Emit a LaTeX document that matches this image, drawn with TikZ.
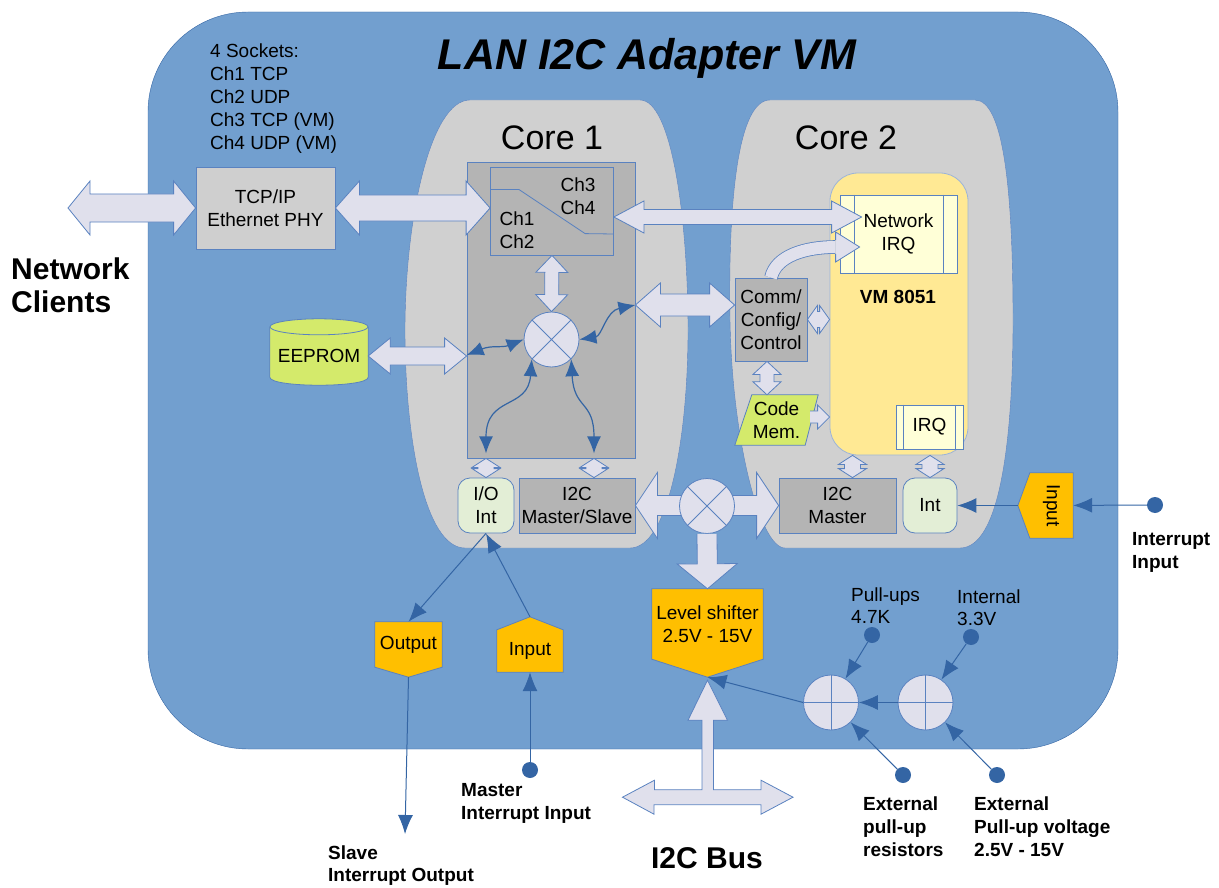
\documentclass[tikz,border=0pt]{standalone}
\usepackage{fontspec}
\setmainfont{Liberation Sans}
\usetikzlibrary{calc,arrows.meta}
\definecolor{cBlue}{HTML}{729FCF}
\definecolor{cdBlue}{HTML}{3465A4}
\definecolor{cEdge}{HTML}{5A82C0}
\definecolor{clLav}{HTML}{E0E0EC}
\definecolor{cCore}{HTML}{D0D0D0}
\definecolor{cGray}{HTML}{B4B4B4}
\definecolor{clGray}{HTML}{CFCFCF}
\definecolor{cGreen}{HTML}{D4EA6B}
\definecolor{clGreen}{HTML}{E3EED6}
\definecolor{cYellow}{HTML}{FFE994}
\definecolor{clYellow}{HTML}{FFFFD7}
\definecolor{cOrange}{HTML}{FFBF00}
\tikzset{>={Latex[length=19pt,width=15pt]}}
% block arrows: from, to, shaft half, head half, head length
\newcommand{\dblarrow}[5]{%
	\draw[blk] (#1) -- ($(#1)!#5pt!(#2)!#4pt!90:(#2)$) -- ($(#1)!#5pt!(#2)!#3pt!90:(#2)$)
		-- ($(#2)!#5pt!(#1)!#3pt!-90:(#1)$) -- ($(#2)!#5pt!(#1)!#4pt!-90:(#1)$) -- (#2)
		-- ($(#2)!#5pt!(#1)!#4pt!90:(#1)$) -- ($(#2)!#5pt!(#1)!#3pt!90:(#1)$)
		-- ($(#1)!#5pt!(#2)!#3pt!-90:(#2)$) -- ($(#1)!#5pt!(#2)!#4pt!-90:(#2)$) -- cycle;}
\newcommand{\sglarrow}[5]{%
	\draw[blk] ($(#1)!#3pt!90:(#2)$) -- ($(#2)!#5pt!(#1)!#3pt!-90:(#1)$) -- ($(#2)!#5pt!(#1)!#4pt!-90:(#1)$) -- (#2)
		-- ($(#2)!#5pt!(#1)!#4pt!90:(#1)$) -- ($(#2)!#5pt!(#1)!#3pt!90:(#1)$) -- ($(#1)!#3pt!-90:(#2)$);}

\begin{document}
\begin{tikzpicture}[x=1pt, y=-1pt,
	every node/.style={font=\fontsize{19}{23}\selectfont, inner sep=1pt},
	box/.style={draw=cEdge, fill=cGray, align=center, line width=0.8pt},
	intbox/.style={box, fill=clGreen, rounded corners=12},
	irqbox/.style={box, fill=clYellow},
	blk/.style={draw=cEdge, fill=clLav, line width=0.8pt},
	flagshape/.style={draw=cEdge, fill=cOrange, line width=0.8pt},
	wire/.style={draw=cdBlue, line width=1pt},
	bilink/.style={draw=cdBlue, line width=1.2pt, {Latex[length=17pt,width=14pt]}-{Latex[length=17pt,width=14pt]}},
	jack/.style={circle, fill=cdBlue, minimum size=16, inner sep=0},
	mux/.style={circle, draw=cEdge, fill=clLav, minimum size=55, inner sep=0, line width=0.8pt},
	lbl/.style={font=\fontsize{19}{23}\selectfont\bfseries, align=left, anchor=north west, inner sep=0}]
	\useasboundingbox (0,0) rectangle (1219,888);
	
	%background
	\draw[draw=cdBlue, fill=cBlue, rounded corners=100] (148,12) rectangle (1118,749);
	\node[font=\fontsize{43}{50}\selectfont\bfseries\itshape, anchor=base] (title) at (647,70) {LAN I2C Adapter VM};
	\node[align=left, anchor=north west, inner sep=0] (socks) at (210,44) {4 Sockets:\\Ch1 TCP\\Ch2 UDP\\Ch3 TCP (VM)\\Ch4 UDP (VM)};
	
	%core 1
	\draw[draw=cEdge, fill=cCore] (470,100) -- (640,100) .. controls (672,100) and (688,220) .. (688,330) .. controls (688,440) and (668,548) .. (630,548) -- (465,548) .. controls (425,548) and (405,440) .. (405,330) .. controls (405,220) and (430,100) .. (470,100) -- cycle;
	%core 2
	\draw[draw=cEdge, fill=cCore] (770,100) -- (975,100) .. controls (1005,100) and (1013,200) .. (1013,320) .. controls (1013,440) and (1000,548) .. (960,548) -- (785,548) .. controls (760,548) and (732,440) .. (730,320) .. controls (728,200) and (738,100) .. (770,100) -- cycle;
	\node[font=\fontsize{34}{40}\selectfont, anchor=base] (core1) at (552,150) {Core 1};
	\node[font=\fontsize{34}{40}\selectfont, anchor=base] (core2) at (846,150) {Core 2};
	
	%network side
	\node[box, fill=clGray, minimum width=139, minimum height=82] (phy) at (265.5,208) {TCP/IP\\Ethernet PHY};
	\node[box, minimum width=168, minimum height=296] (core1in) at (551,310) {};
	\node[box, minimum width=123, minimum height=88] (chbox) at (552,211) {};
	\draw[draw=cEdge, line width=0.8pt] ($(chbox.north west)+(0,23)$) -- ++(29,0) -- ++(66,44) -- (chbox.east |- 0,234);
	\node[align=left] (ch34) at (578,196) {Ch3\\Ch4};
	\node[align=left] (ch12) at (517,230) {Ch1\\Ch2};
	\node[mux] (mux1) at (551.5,339.5) {};
	\draw[draw=cEdge, line width=0.8pt] (mux1.north west) -- (mux1.south east) (mux1.north east) -- (mux1.south west);
	
	%eeprom
	\node[minimum width=98, minimum height=58, inner sep=0] (eeprom) at (319,356) {};
	\draw[draw=cEdge, fill=cGreen, line width=0.8pt] (eeprom.north west) -- ($(eeprom.south west)+(0,-8)$) .. controls +(0,10.7) and +(0,10.7) .. ($(eeprom.south east)+(0,-8)$) -- (eeprom.north east);
	\draw[draw=cEdge, fill=cGreen, line width=0.8pt] (eeprom.north) ellipse[x radius=49, y radius=8];
	\node at (eeprom) {EEPROM};
	
	%vm 8051
	\node[box, draw=cEdge!60, fill=cYellow, rounded corners=28, minimum width=138, minimum height=282] (vm) at (899,314) {};
	\node[font=\fontsize{19}{23}\selectfont\bfseries] (vmlbl) at (898,297) {VM 8051};
	\node[irqbox, minimum width=117, minimum height=78] (nirq) at (898.5,234) {Network\\IRQ};
	\draw[draw=cEdge, line width=0.8pt] ($(nirq.north west)+(15,0)$) -- ($(nirq.south west)+(15,0)$);
	\draw[draw=cEdge, line width=0.8pt] ($(nirq.north east)+(-14,0)$) -- ($(nirq.south east)+(-14,0)$);
	\node[irqbox, minimum width=67, minimum height=44] (irq) at (929.5,427) {IRQ};
	\draw[draw=cEdge, line width=0.8pt] ($(irq.north west)+(8,0)$) -- ($(irq.south west)+(8,0)$);
	\draw[draw=cEdge, line width=0.8pt] ($(irq.north east)+(-8,0)$) -- ($(irq.south east)+(-8,0)$);
	\node[box, minimum width=72, minimum height=83] (comm) at (771,319.5) {Comm/\\Config/\\Control};
	\node[minimum width=83, minimum height=50, inner sep=0] (codemem) at (776.5,420) {};
	\draw[draw=cEdge, fill=cGreen, line width=0.8pt] ($(codemem.north west)+(17,0)$) -- (codemem.north east) -- ($(codemem.south east)+(-13,0)$) -- (codemem.south west) -- cycle;
	\node[align=center] at (codemem) {Code\\Mem.};
	
	%bottom row
	\node[intbox, minimum width=56, minimum height=55] (ioint) at (486,505.5) {I/O\\Int};
	\node[box, minimum width=116, minimum height=55] (i2cms) at (577,505.5) {I2C\\Master/Slave};
	\node[box, minimum width=117, minimum height=55] (i2cm) at (837.5,505.5) {I2C\\Master};
	\node[intbox, minimum width=54, minimum height=55] (intn) at (930,505.5) {Int};
	
	%ports
	\node[minimum width=111, minimum height=70] (lvl) at (707.5,624) {};
	\coordinate (lvltip) at ($(lvl.south)+(0,18)$);
	\draw[flagshape] (lvl.north west) -- (lvl.north east) -- (lvl.south east) -- (lvltip) -- (lvl.south west) -- cycle;
	\node[align=center] at (lvl) {Level shifter\\ 2.5V - 15V};
	\node[minimum width=67, minimum height=45] (outp) at (408.5,644.5) {};
	\coordinate (outtip) at ($(outp.south)+(0,10)$);
	\draw[flagshape] (outp.north west) -- (outp.north east) -- (outp.south east) -- (outtip) -- (outp.south west) -- cycle;
	\node at (outp) {Output};
	\node[minimum width=66, minimum height=42] (inp) at (530,651) {};
	\coordinate (inptip) at ($(inp.north)+(0,-13)$);
	\draw[flagshape] (inp.south west) -- (inp.north west) -- (inptip) -- (inp.north east) -- (inp.south east) -- cycle;
	\node at (inp) {Input};
	\node[minimum width=43, minimum height=65] (inp2) at (1051.5,505.5) {};
	\coordinate (inp2tip) at ($(inp2.west)+(-12,0)$);
	\draw[flagshape] (inp2.north east) -- (inp2.north west) -- (inp2tip) -- (inp2.south west) -- (inp2.south east) -- cycle;
	\node[rotate=-90] at (inp2) {Input};
	
	%block arrows
	\coordinate (clients) at (68,208);
	\dblarrow{clients}{phy.west}{14}{27}{22}
	\dblarrow{phy.east}{phy.east -| chbox.west}{13}{27}{24}
	\coordinate (chr) at ($(chbox.east)+(0,6)$);
	\coordinate (nirqin) at ($(nirq.west)+(22,-17)$);
	\dblarrow{chr}{nirqin}{7.5}{16}{30}
	\coordinate (c1r) at ($(core1in.east)+(0,-5)$);
	\dblarrow{c1r}{c1r -| comm.west}{11}{22}{25}
	\dblarrow{eeprom.east}{eeprom.east -| core1in.west}{9}{18}{22}
	\dblarrow{chbox.south}{mux1.north}{7}{16}{17}
	\dblarrow{comm.east}{comm.east -| vm.west}{8}{14}{10}
	\coordinate (cmx) at ($(comm.south)+(-4,0)$);
	\dblarrow{cmx}{cmx |- codemem.north}{7}{14}{13}
	\coordinate (cmr) at ($(codemem.east)+(-8,-3)$);
	\sglarrow{cmr}{cmr -| vm.west}{6}{12}{12}
	\coordinate (ioup) at (ioint.north |- core1in.south);
	\dblarrow{ioup}{ioint.north}{8}{14}{9}
	\coordinate (msdn) at ($(i2cms.north)+(17,0)$);
	\dblarrow{msdn |- core1in.south}{msdn}{8}{14}{9}
	\coordinate (mdn) at ($(i2cm.north)+(15,0)$);
	\dblarrow{mdn |- vm.south}{mdn}{8}{14}{9}
	\dblarrow{intn.north |- vm.south}{intn.north}{8}{14}{9}
	\dblarrow{i2cms.east}{i2cm.west}{10}{33}{22}
	%curved arrow to network irq
	\coordinate (nirqhd) at ($(nirq.west)+(-4,13)$);
	\draw[draw=cEdge, double=clLav, double distance=12pt, line width=0.8pt] (comm.north) .. controls +(5,-22) and +(-30,0) .. (nirqhd);
	\fill[clLav] (nirqhd) ++(0,-15) -- ++(24,15) -- ++(-24,15) -- cycle;
	\draw[draw=cEdge, line width=0.8pt] ($(nirqhd)+(0,-7)$) -- ++(0,-8) -- ++(24,15) -- ++(-24,15) -- ++(0,-8);
	
	%bottom switch
	\node[mux] (mux2) at (707,506) {};
	\draw[draw=cEdge, line width=0.8pt] (mux2.north west) -- (mux2.south east) (mux2.north east) -- (mux2.south west);
	\sglarrow{mux2.south}{lvl.north}{10}{30}{25}
	
	%i2c bus
	\coordinate (bus) at ($(lvltip)+(0,120)$);
	\draw[blk] ($(bus)+(-85,0)$) -- ++(32,-17) -- ++(0,9.5) -- ++(47.5,0) -- ++(0,-69.5) -- ++(-14,0) -- ($(lvltip)+(0,3)$) -- ++(20,40) -- ++(-14,0) -- ++(0,69.5) -- ++(47.5,0) -- ++(0,-9.5) -- ++(32,17) -- ++(-32,17) -- ++(0,-9.5) -- ++(-107,0) -- ++(0,9.5) -- cycle;
	
	%core 1 links
	\coordinate (c1l) at ($(core1in.west)+(0,45)$);
	\coordinate (c1bl) at ($(ioup)+(0,-5)$);
	\coordinate (c1br) at ($(msdn |- core1in.south)+(0,-5)$);
	\draw[bilink] (c1l) .. controls (492,345) and (502,348) .. (mux1.west);
	\draw[bilink] (mux1.east) .. controls (602,336) and (606,311) .. (c1r);
	\draw[bilink] (mux1.south west) .. controls (528,410) and (486,395) .. (c1bl);
	\draw[bilink] (mux1.south east) .. controls (574,410) and (594,400) .. (c1br);
	
	%pull-ups
	\node[mux] (pu1) at (831,702.5) {};
	\draw[draw=cEdge, line width=0.8pt] (pu1.north) -- (pu1.south) (pu1.west) -- (pu1.east);
	\node[mux] (pu2) at (925.5,702.5) {};
	\draw[draw=cEdge, line width=0.8pt] (pu2.north) -- (pu2.south) (pu2.west) -- (pu2.east);
	
	%terminals
	\node[jack] (dint) at (1155,505) {};
	\node[jack] (dmaster) at (530,770) {};
	\node[jack] (dpull) at (872,635) {};
	\node[jack] (dvolt) at (971,637) {};
	\node[jack] (dres) at (903,775) {};
	\node[jack] (dext) at (997,775) {};
	\coordinate (slaveout) at (405,834);
	
	\draw[wire,->] (dint) -- (inp2);
	\draw[wire,->] (inp2tip) -- (intn);
	\draw[wire,->] (ioint.south) -- (outp.north);
	\draw[wire,->] (inptip) -- (ioint.south);
	\draw[wire,->] (outtip) -- (slaveout);
	\draw[wire,->] (dmaster) -- (inp.south);
	\draw[wire,->] (dpull) -- (pu1);
	\draw[wire,->] (dvolt) -- (pu2);
	\draw[wire,->] (dres) -- (pu1);
	\draw[wire,->] (dext) -- (pu2);
	\draw[wire,->] (pu2) -- (pu1);
	\draw[wire,->] (pu1.west) -- (lvltip);
	
	%labels
	\node[font=\fontsize{30}{33}\selectfont\bfseries, align=left, anchor=north west, inner sep=0] (clientlbl) at (11,258) {Network\\Clients};
	\node[font=\fontsize{30}{33}\selectfont\bfseries, anchor=base] (buslbl) at (707,868) {I2C Bus};
	\node[lbl] at (1132,532) {Interrupt\\Input};
	\node[lbl] at (461,783) {Master\\Interrupt Input};
	\node[lbl, font=\fontsize{19}{22}\selectfont\bfseries] at (328,846) {Slave\\Interrupt Output};
	\node[lbl] at (863,797) {External\\pull-up\\resistors};
	\node[lbl] at (974,797) {External\\Pull-up voltage\\2.5V - 15V};
	\node[align=left, anchor=north west, inner sep=0, font=\fontsize{19}{22}\selectfont] at (851,588) {Pull-ups\\4.7K};
	\node[align=left, anchor=north west, inner sep=0, font=\fontsize{19}{22}\selectfont] at (957,590) {Internal\\3.3V};
\end{tikzpicture}
\end{document}
